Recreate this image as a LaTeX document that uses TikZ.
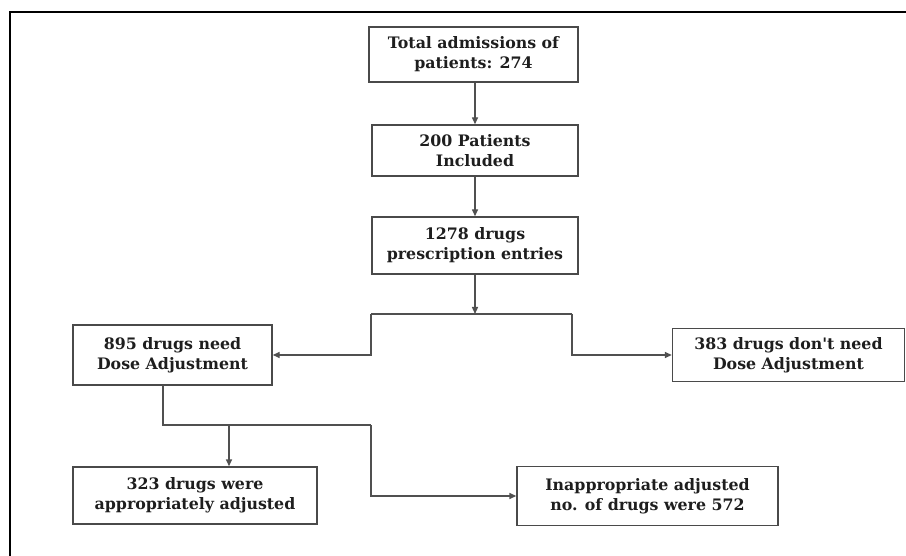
\documentclass[tikz,border=0pt]{standalone}
\usepackage{fontspec}
\setmainfont{DejaVu Serif}
\usetikzlibrary{arrows.meta,calc}
\definecolor{boxline}{HTML}{4A4A4A}
\definecolor{conn}{HTML}{505050}
\definecolor{txt}{HTML}{1E1E1E}
\begin{document}
\begin{tikzpicture}[x=1pt,y=-1pt,
  box/.style={draw=boxline,line width=1.4pt,inner sep=0pt,align=center,
    font=\bfseries\fontsize{15.8}{20}\selectfont,text=txt},
  conn/.style={draw=conn,line width=1.4pt},
  arr/.style={conn,-{Triangle[length=7pt,width=6pt]}}]
\useasboundingbox (0,0) rectangle (906,556);
\fill[white] (0,0) rectangle (906,556);
\draw[line width=2.4pt] (10,556) -- (10,12) -- (906,12);
\node[box,minimum width=209pt,minimum height=55pt] (b1) at (473.5,54.5) {Total admissions of\\patients: 274};
\node[box,minimum width=206pt,minimum height=51pt] (b2) at (475,150.5) {200 Patients\\Included};
\node[box,minimum width=206pt,minimum height=57pt] (b3) at (475,245.5) {1278 drugs\\prescription entries};
\node[box,minimum width=199pt,minimum height=60pt] (b4) at (172.5,355) {895 drugs need\\Dose Adjustment};
\node[box,minimum width=232pt,minimum height=53pt] (b5) at (788.5,355) {383 drugs don\textquotesingle t need\\Dose Adjustment};
\node[box,minimum width=244pt,minimum height=57pt] (b6) at (195,495.5) {323 drugs were\\appropriately adjusted};
\node[box,minimum width=261pt,minimum height=59pt] (b7) at (647.5,496) {Inappropriate adjusted\\no. of drugs were 572};
\coordinate (jn) at (475,314);
\coordinate (jl) at (371,314);
\coordinate (jr) at (572,314);
\coordinate (k0) at (163,385);
\coordinate (k1) at (163,425);
\coordinate (m1) at (229,425);
\coordinate (k2) at (371,425);
\draw[arr] (b1.south -| b2.north) -- (b2.north);
\draw[arr] (b2.south) -- (b3.north);
\draw[arr] (b3.south) -- (jn);
\draw[conn] (jl) -- (jr);
\draw[arr] (jl) |- (b4.east);
\draw[arr] (jr) |- (b5.west);
\draw[conn] (k0) -- (k1) -- (k2);
\draw[arr] (m1) -- (m1 |- b6.north);
\draw[arr] (k2) |- (b7.west);
\end{tikzpicture}
\end{document}
